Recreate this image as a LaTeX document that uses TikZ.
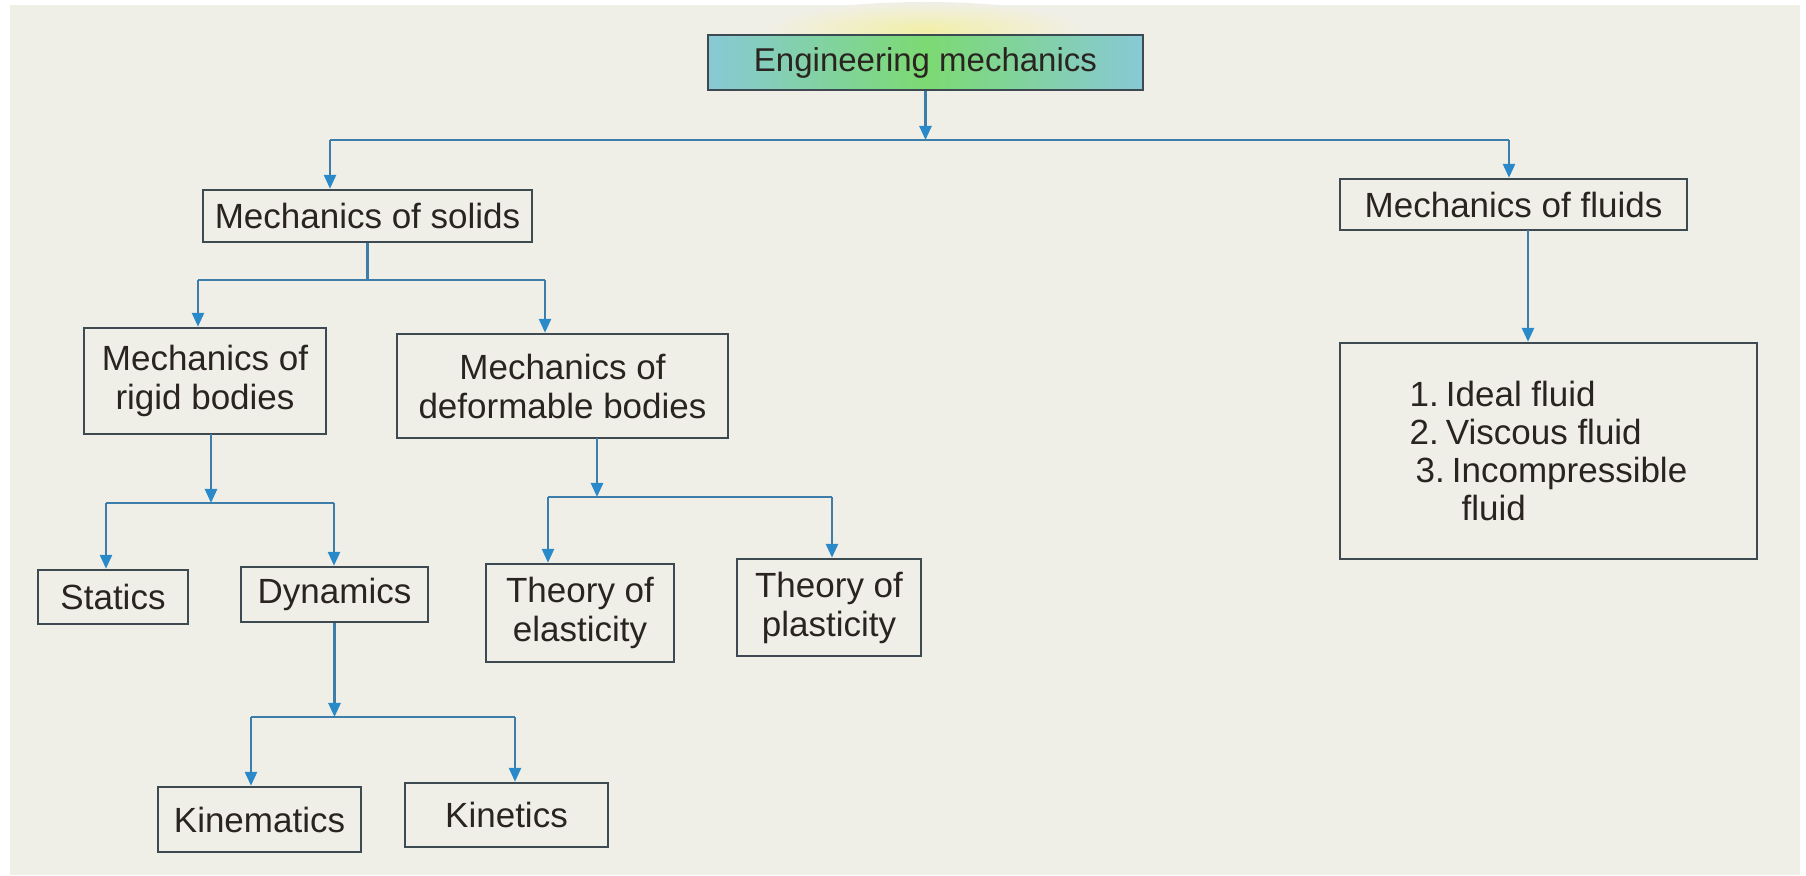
\documentclass[tikz,border=0pt]{standalone}
\usepackage{fontspec}
\setmainfont{Liberation Sans}
\usetikzlibrary{arrows.meta}
\definecolor{bg}{HTML}{F0EFE7}
\definecolor{boxc}{HTML}{3E4A52}
\definecolor{linec}{HTML}{3C7DAA}
\definecolor{tipc}{HTML}{2A89C8}
\definecolor{txt}{HTML}{2A2420}
\definecolor{emside}{HTML}{88C9D6}
\definecolor{emmid}{HTML}{7CDA72}
\definecolor{glow}{HTML}{F2EFA8}
\begin{document}
\begin{tikzpicture}[x=0.5pt,y=-0.5pt,
  box/.style={draw=boxc, line width=1.2pt, inner sep=0pt, align=center, text=txt,
    font=\fontsize{17.5pt}{19.5pt}\selectfont},
  conn/.style={draw=linec, line width=1.3pt},
  arr/.style={conn, -{Triangle[width=6pt,length=7pt,fill=tipc,color=tipc]}}]
\useasboundingbox (0,0) rectangle (1806,876);
\fill[white] (0,0) rectangle (1806,876);
\fill[bg] (10,5) rectangle (1800,875);
\shade[inner color=glow, outer color=bg] (925,30) ellipse (160 and 28);

\node[box, left color=emside, right color=emside, middle color=emmid,
      minimum width=217.5pt, minimum height=27.5pt,
      font=\fontsize{16.5pt}{19pt}\selectfont] (em) at (925.5,62.5) {Engineering mechanics};
\node[box, minimum width=164.5pt, minimum height=26pt] (solids) at (367.5,216) {Mechanics of solids};
\node[box, minimum width=173.5pt, minimum height=25.5pt] (fluids) at (1513.5,204.5) {Mechanics of fluids};
\node[box, minimum width=121pt, minimum height=53pt] (rigid) at (205,381) {Mechanics of\\rigid bodies};
\node[box, minimum width=165.5pt, minimum height=52pt] (deform) at (562.5,386) {Mechanics of\\deformable bodies};
\node[box, minimum width=75pt, minimum height=27pt] (statics) at (113,597) {Statics};
\node[box, minimum width=93.5pt, minimum height=27.5pt] (dynamics) at (334.5,594.5) {Dynamics};
\node[box, minimum width=94pt, minimum height=49pt] (elastic) at (580,613) {Theory of\\elasticity};
\node[box, minimum width=92pt, minimum height=48.5pt] (plastic) at (829,607.5) {Theory of\\plasticity};
\node[box, minimum width=101.5pt, minimum height=32.5pt] (kinematics) at (259.5,819.5) {Kinematics};
\node[box, minimum width=101.5pt, minimum height=32pt] (kinetics) at (506.5,815) {Kinetics};
\node[box, minimum width=208.5pt, minimum height=108pt, align=left, font=\fontsize{17.5pt}{19pt}\selectfont] (list) at (1548.5,451)
  {1.\kern3.5pt Ideal fluid\\2.\kern3.5pt Viscous fluid\\\hspace{3pt}3.\kern3.5pt Incompressible\\\hspace{3pt}\hphantom{3.\kern3.5pt I}fluid};

% level 1
\coordinate (b1) at (925.5,140);
\coordinate (b1l) at (330,140);
\coordinate (b1r) at (1509,140);
\draw[arr] (em.south) -- (b1);
\draw[conn] (b1l) -- (b1r);
\draw[arr] (b1l) -- (b1l |- solids.north);
\draw[arr] (b1r) -- (b1r |- fluids.north);

% solids
\coordinate (b2) at (367.5,280);
\coordinate (b2l) at (198,280);
\coordinate (b2r) at (545,280);
\draw[conn] (solids.south) -- (b2);
\draw[conn] (b2l) -- (b2r);
\draw[arr] (b2l) -- (b2l |- rigid.north);
\draw[arr] (b2r) -- (b2r |- deform.north);

% rigid bodies
\coordinate (r1) at (211,434);
\coordinate (b3) at (211,503);
\coordinate (b3l) at (106,503);
\coordinate (b3r) at (334,503);
\draw[arr] (r1) -- (b3);
\draw[conn] (b3l) -- (b3r);
\draw[arr] (b3l) -- (b3l |- statics.north);
\draw[arr] (b3r) -- (b3r |- dynamics.north);

% deformable bodies
\coordinate (d1) at (597,438);
\coordinate (b4) at (597,497);
\coordinate (b4l) at (548,497);
\coordinate (b4r) at (832,497);
\draw[arr] (d1) -- (b4);
\draw[conn] (b4l) -- (b4r);
\draw[arr] (b4l) -- (b4l |- elastic.north);
\draw[arr] (b4r) -- (b4r |- plastic.north);

% dynamics
\coordinate (b5) at (334.5,717);
\coordinate (b5l) at (251,717);
\coordinate (b5r) at (515,717);
\draw[arr] (dynamics.south) -- (b5);
\draw[conn] (b5l) -- (b5r);
\draw[arr] (b5l) -- (b5l |- kinematics.north);
\draw[arr] (b5r) -- (b5r |- kinetics.north);

% fluids
\coordinate (f1) at (1528,230);
\draw[arr] (f1) -- (f1 |- list.north);
\end{tikzpicture}
\end{document}
